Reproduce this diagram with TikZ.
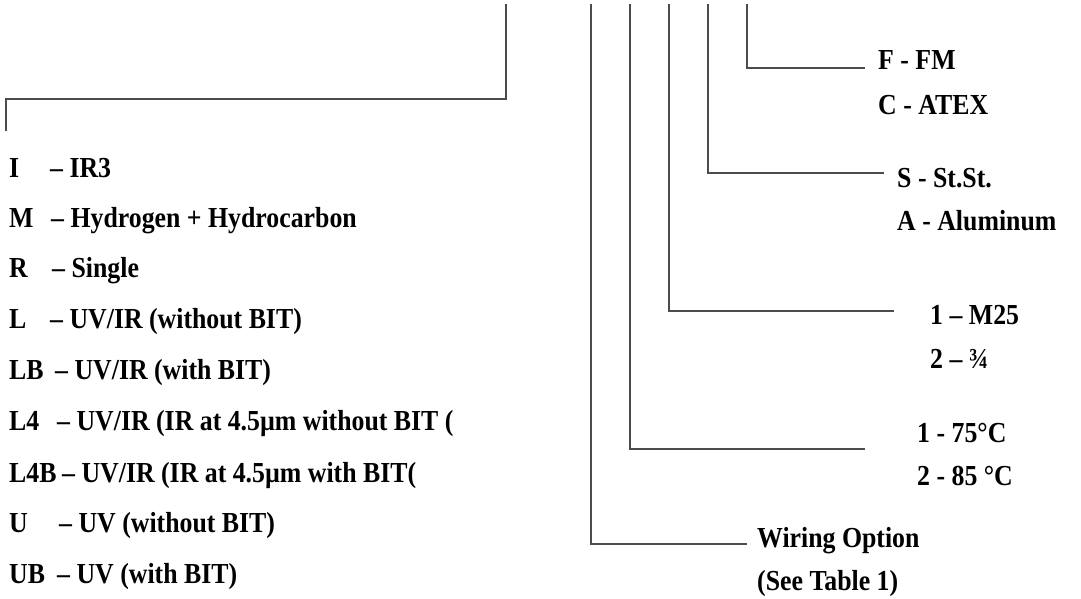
\documentclass[tikz,border=0pt]{standalone}
\usepackage{fontspec}
\setmainfont{Liberation Serif}[FakeStretch=0.89]
\begin{document}
\begin{tikzpicture}[x=1pt,y=-1pt,
  wire/.style={draw=black!70,line width=1.5pt},
  lbl/.style={anchor=base west,inner sep=0pt,font=\fontsize{29}{29}\selectfont\bfseries}]
\useasboundingbox (0,0) rectangle (1081,599);
% left tree
\coordinate (t0) at (506,4);
\coordinate (t1) at (506,99);
\coordinate (t2) at (6,99);
\coordinate (t3) at (6,131);
\draw[wire] (t0) -- (t1) -- (t2) -- (t3);
% left list
\node[lbl] (k1) at (9,177) {I};   \node[lbl] (v1) at (50,177) {– IR3};
\node[lbl] (k2) at (9,227) {M};   \node[lbl] (v2) at (51,227) {– Hydrogen + Hydrocarbon};
\node[lbl] (k3) at (9,277) {R};   \node[lbl] (v3) at (52,277) {– Single};
\node[lbl] (k4) at (9,328) {L};   \node[lbl] (v4) at (50,328) {– UV/IR (without BIT)};
\node[lbl] (k5) at (9,379) {LB};  \node[lbl] (v5) at (55,379) {– UV/IR (with BIT)};
\node[lbl] (k6) at (9,430) {L4};  \node[lbl] (v6) at (57,430) {– UV/IR (IR at 4.5µm without BIT (};
\node[lbl] (k7) at (9,482) {L4B}; \node[lbl] (v7) at (62,482) {– UV/IR (IR at 4.5µm with BIT(};
\node[lbl] (k8) at (9,532) {U};   \node[lbl] (v8) at (59,532) {– UV (without BIT)};
\node[lbl] (k9) at (9,583) {UB};  \node[lbl] (v9) at (57,583) {– UV (with BIT)};
% right labels
\node[lbl] (f) at (878,70) {F - FM};
\node[lbl] (c) at (878,114) {C - ATEX};
\node[lbl] (s) at (897,187) {S - St.St.};
\node[lbl] (a) at (897,230) {A - Aluminum};
\node[lbl] (m1) at (930,324) {1 – M25};
\node[lbl] (m2) at (930,368) {2 – ¾};
\node[lbl] (h1) at (917,442) {1 - 75°C};
\node[lbl] (h2) at (917,485) {2 - 85 °C};
\node[lbl] (w1) at (757,547) {Wiring Option};
\node[lbl] (w2) at (757,590) {(See Table 1)};
% right tree
\coordinate (r5a) at (747,4); \coordinate (r5b) at (747,68); \coordinate (r5c) at (865,68);
\coordinate (r4a) at (708,4); \coordinate (r4b) at (708,173); \coordinate (r4c) at (884,173);
\coordinate (r3a) at (669,4); \coordinate (r3b) at (669,311); \coordinate (r3c) at (894,311);
\coordinate (r2a) at (630,4); \coordinate (r2b) at (630,449); \coordinate (r2c) at (865,449);
\coordinate (r1a) at (591,4); \coordinate (r1b) at (591,544); \coordinate (r1c) at (747,544);
\draw[wire] (r5a) -- (r5b) -- (r5c);
\draw[wire] (r4a) -- (r4b) -- (r4c);
\draw[wire] (r3a) -- (r3b) -- (r3c);
\draw[wire] (r2a) -- (r2b) -- (r2c);
\draw[wire] (r1a) -- (r1b) -- (r1c);
\end{tikzpicture}
\end{document}
